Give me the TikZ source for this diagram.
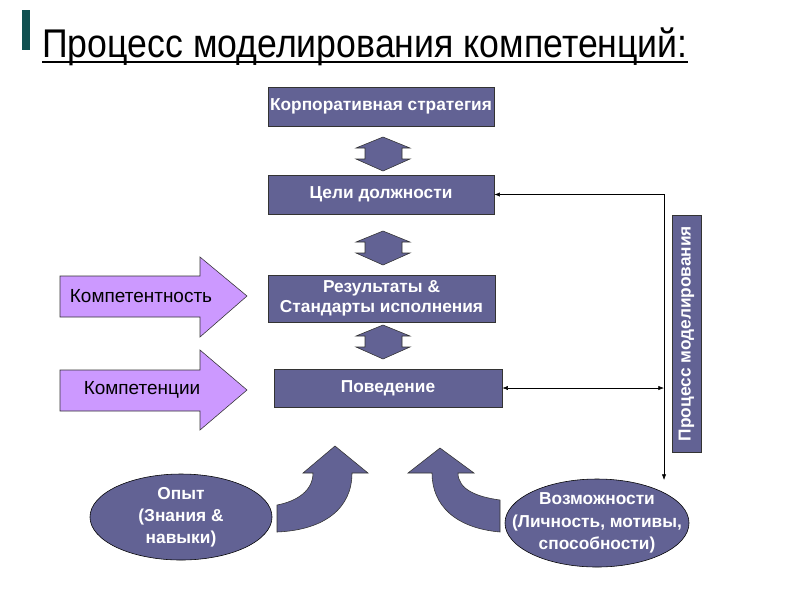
\documentclass[tikz,border=0pt]{standalone}
\usepackage{fontspec}
\setmainfont{Liberation Sans}
\newfontfamily\narrowfont{Liberation Sans}[FakeStretch=0.89]
\usetikzlibrary{shapes.geometric, arrows.meta}
\definecolor{slate}{RGB}{98,98,148}
\definecolor{lilac}{RGB}{204,153,255}
\definecolor{tealbar}{RGB}{16,80,80}
\tikzset{
    stage/.style = {draw=black!80, fill=slate, text=white, font=\fontsize{12.3}{14.5}\selectfont\bfseries, align=center, inner sep=0pt},
    source/.style = {ellipse, draw=black, fill=slate, inner sep=0pt},
    source text/.style = {text=white, font=\fontsize{12.3}{15.8}\selectfont\bfseries, align=center, inner sep=0pt},
    lilac arrow/.style = {draw=black!80, fill=lilac},
    link/.style = {thin, {Latex[length=4pt, width=3pt]}-{Latex[length=4pt, width=3pt]}}
}

\begin{document}
\begin{tikzpicture}[x=0.025cm, y=-0.025cm]
        \fill[white] (0,0) rectangle (800,600);
        \useasboundingbox (0,0) rectangle (800,600);

        % title
        \fill[tealbar] (22,10) rectangle (30,50);
        \node[anchor=base west, inner sep=0pt, font=\narrowfont\fontsize{28.5}{30}\selectfont] (title) at (42,57) {Процесс моделирования компетенций:};
        \draw[line width=1.4pt] ([yshift=-3.6pt]title.base west) -- ([yshift=-3.6pt]title.base east);

        % central column
        \node[stage, minimum width=5.65cm, minimum height=0.98cm] (strategy) at (381,106.5) {Корпоративная стратегия};
        \node[stage, minimum width=5.65cm, minimum height=0.98cm] (goals) at (381,194.5) {Цели должности};
        \node[stage, minimum width=5.68cm, minimum height=1.18cm] (results) at (381.5,298.5) {Результаты \&\\Стандарты исполнения};
        \node[stage, minimum width=5.7cm, minimum height=0.95cm] (behaviour) at (388,388) {Поведение};

        \foreach \t in {137, 231, 325} {
            \draw[draw=black!80, fill=slate] (383,\t) -- (410,\t+11) -- (402,\t+11) -- (402,\t+22) -- (410,\t+22)
                -- (383,\t+34) -- (356,\t+22) -- (365,\t+22) -- (365,\t+11) -- (356,\t+11) -- cycle;
        }

        % left arrows
        \draw[lilac arrow] (60,276) -- (200,276) -- (200,257) -- (247,296) -- (200,337) -- (200,317) -- (60,317) -- cycle;
        \node[font=\fontsize{13.5}{15}\selectfont] (competence) at (141,296) {Компетентность};
        \draw[lilac arrow] (60,370) -- (200,370) -- (200,350) -- (247,390) -- (200,430) -- (200,411) -- (60,411) -- cycle;
        \node[font=\fontsize{13.5}{15}\selectfont] (competencies) at (142,390) {Компетенции};

        % right side
        \node[stage, rotate=90, minimum width=5.93cm, minimum height=0.73cm] (modelling) at (686.5,333.5) {Процесс моделирования};

        \node[source, minimum width=4.55cm, minimum height=2.15cm] (experience) at (181,517) {};
        \node[source text] (experience text) at (experience) {Опыт\\(Знания \&\\навыки)};
        \node[source, minimum width=4.6cm, minimum height=2.2cm] (abilities) at (597,523) {};
        \node[source text] (abilities text) at (abilities) {Возможности\\(Личность, мотивы,\\способности)};

        % curved arrows
        \draw[draw=black!80, fill=slate] (277,505) .. controls (298,501) and (313,490) .. (313,473) -- (303,473) -- (335,446)
            -- (368,473) -- (352,473) .. controls (352,508) and (325,530) .. (277,532) -- cycle;
        \draw[draw=black!80, fill=slate] (500,500) .. controls (478,497) and (458,490) .. (458,473) -- (474,473) -- (440,448)
            -- (408,473) -- (432,473) .. controls (432,505) and (455,528) .. (500,532) -- cycle;

        % feedback lines
        \coordinate (turn) at (664,194.5);
        \coordinate (side) at (664,388);
        \coordinate (ability top) at (664,480);
        \draw[link] (goals.east) -- (turn) -- (ability top);
        \draw[link] (behaviour.east) -- (side);
    \end{tikzpicture}
\end{document}
